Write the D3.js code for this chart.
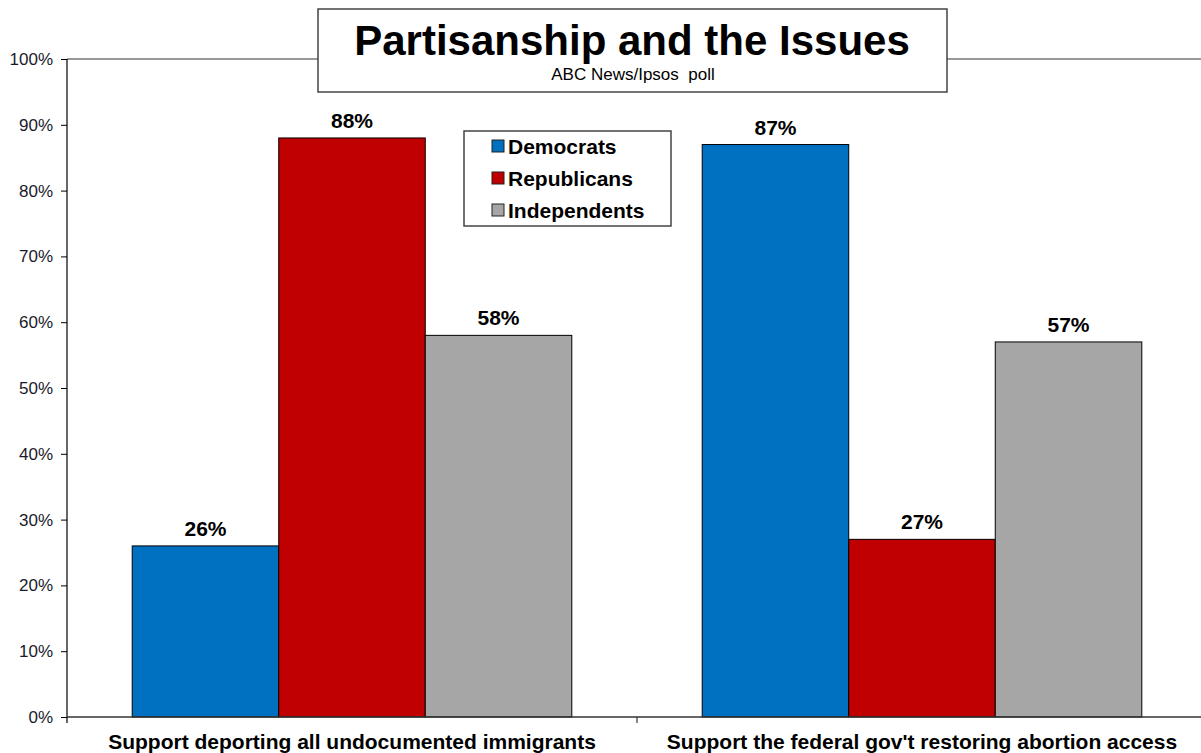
<!DOCTYPE html>
<html>
<head>
<meta charset="utf-8">
<script src="https://cdn.jsdelivr.net/npm/d3@7"></script>
<style>
  html, body { margin: 0; padding: 0; background: #fff; }
  svg { display: block; font-family: "Liberation Sans", Arial, sans-serif; }
</style>
</head>
<body>
<svg id="chart" width="1201" height="753"></svg>
<script>
const categories = ["Support deporting all undocumented immigrants", "Support the federal gov't restoring abortion access"];
const series = ["Democrats", "Republicans", "Independents"];
const democrats = [26, 87];
const republicans = [88, 27];
const independents = [58, 57];
const seriesValues = [democrats, republicans, independents];
const colors = ["#0070C0", "#C00000", "#A6A6A6"];
const yTicks = [0, 10, 20, 30, 40, 50, 60, 70, 80, 90, 100];
const chartTitle = "Partisanship and the Issues";
const chartSubtitle = "ABC News/Ipsos  poll";

const svg = d3.select("#chart");
const pLeft = 67, pRight = 1207, pTop = 59, pBottom = 717;

const x0 = d3.scaleBand().domain(categories).range([pLeft, pRight]).paddingInner(0).paddingOuter(0);
const x1 = d3.scaleBand().domain(series).range([0, x0.bandwidth()]).paddingInner(0).paddingOuter(0.445);
const y = d3.scaleLinear().domain([0, 100]).range([pBottom, pTop]);
const color = d3.scaleOrdinal().domain(series).range(colors);

// top border line of plot area
svg.append("line").attr("x1", pLeft).attr("x2", 1201).attr("y1", y(100)).attr("y2", y(100))
  .attr("stroke", "#767676").attr("stroke-width", 1.5);

// bars
const data = [];
categories.forEach((c, i) => series.forEach((s, j) => data.push({ c, s, v: seriesValues[j][i] })));

svg.append("g").selectAll("rect").data(data).join("rect")
  .attr("x", d => x0(d.c) + x1(d.s))
  .attr("y", d => y(d.v))
  .attr("width", x1.bandwidth())
  .attr("height", d => y(0) - y(d.v))
  .attr("fill", d => color(d.s))
  .attr("stroke", "#000").attr("stroke-width", 1);

// value labels
svg.append("g").selectAll("text").data(data).join("text")
  .attr("x", d => x0(d.c) + x1(d.s) + x1.bandwidth() / 2)
  .attr("y", d => y(d.v) - 10)
  .attr("text-anchor", "middle")
  .attr("font-size", 21).attr("font-weight", "bold").attr("fill", "#000")
  .text(d => d.v + "%");

// y axis
const yAxis = d3.axisLeft(y).tickValues(yTicks).tickFormat(d => d + "%").tickSize(6).tickPadding(8);
const gy = svg.append("g").attr("transform", `translate(${pLeft},0)`).call(yAxis);
gy.select(".domain").remove();
gy.selectAll(".tick line").attr("stroke", "#000");
gy.selectAll(".tick text").attr("font-size", 17).attr("fill", "#1a1a2a")
  .attr("font-family", "Liberation Sans, Arial, sans-serif");
svg.append("line").attr("x1", pLeft).attr("x2", pLeft).attr("y1", y(100)).attr("y2", pBottom + 6)
  .attr("stroke", "#000").attr("stroke-width", 1.2);

// x axis
svg.append("line").attr("x1", pLeft).attr("x2", 1201).attr("y1", pBottom).attr("y2", pBottom)
  .attr("stroke", "#333").attr("stroke-width", 1.5);
svg.append("g").selectAll("line").data(categories.slice(1)).join("line")
  .attr("x1", d => x0(d)).attr("x2", d => x0(d))
  .attr("y1", pBottom).attr("y2", pBottom + 6)
  .attr("stroke", "#333").attr("stroke-width", 1.2);
svg.append("g").selectAll("text").data(categories).join("text")
  .attr("x", d => x0(d) + x0.bandwidth() / 2)
  .attr("y", 749)
  .attr("text-anchor", "middle")
  .attr("font-size", 21).attr("font-weight", "bold").attr("fill", "#000")
  .text(d => d);

// title box
svg.append("rect").attr("x", 318).attr("y", 9).attr("width", 629).attr("height", 83)
  .attr("fill", "#fff").attr("stroke", "#444").attr("stroke-width", 1.5);
svg.append("text").attr("x", 632).attr("y", 55).attr("text-anchor", "middle")
  .attr("font-size", 42).attr("font-weight", "bold").attr("fill", "#000").text(chartTitle);
svg.append("text").attr("x", 633).attr("y", 80).attr("text-anchor", "middle")
  .style("white-space", "pre")
  .attr("font-size", 17).attr("fill", "#000").text(chartSubtitle);

// legend
const lg = svg.append("g");
lg.append("rect").attr("x", 464).attr("y", 131).attr("width", 207).attr("height", 95)
  .attr("fill", "#fff").attr("stroke", "#444").attr("stroke-width", 1.5);
const items = lg.selectAll("g.item").data(series).join("g").attr("class", "item")
  .attr("transform", (d, i) => `translate(492,${146 + i * 32})`);
items.append("rect").attr("x", 0).attr("y", -6).attr("width", 12).attr("height", 12)
  .attr("fill", d => color(d)).attr("stroke", "#222").attr("stroke-width", 1);
items.append("text").attr("x", 16).attr("y", 7.5)
  .attr("font-size", 21).attr("font-weight", "bold").attr("fill", "#000").text(d => d);
</script>
</body>
</html>
